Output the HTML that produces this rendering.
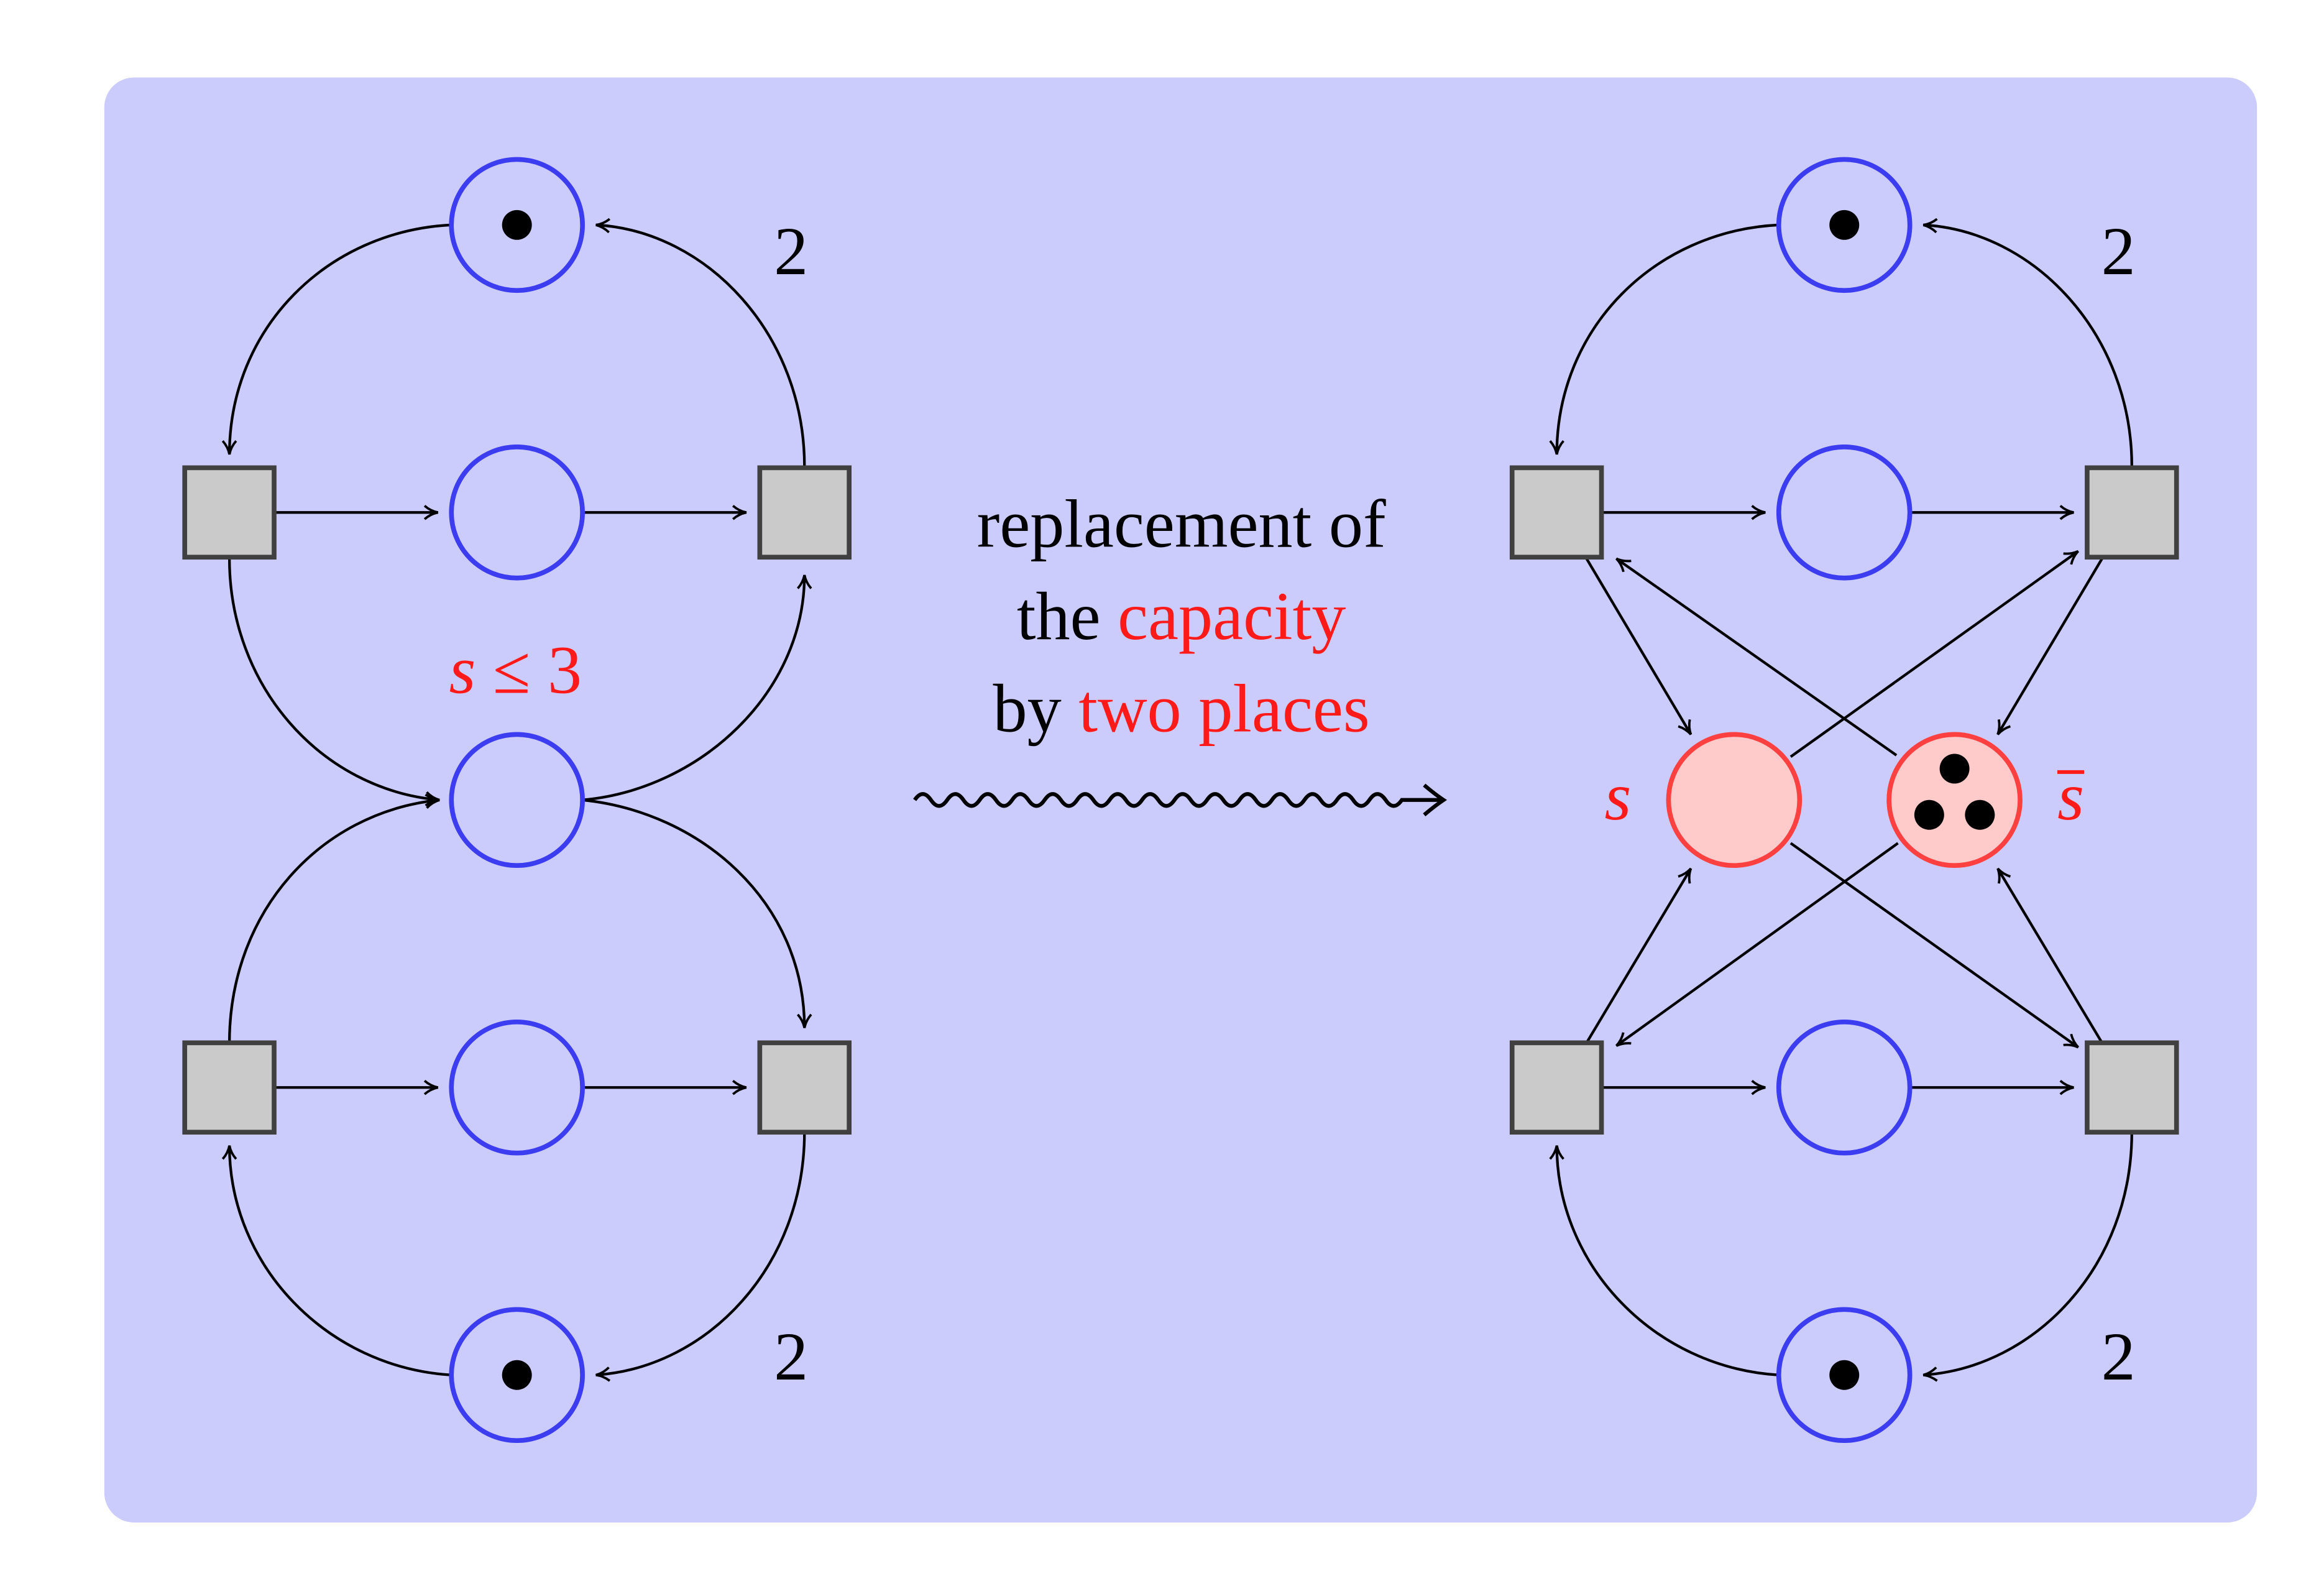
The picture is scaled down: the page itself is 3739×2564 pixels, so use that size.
<!DOCTYPE html>
<html><head><meta charset="utf-8"><style>
html,body{margin:0;padding:0;background:#fff;}
svg{display:block;}
text{font-family:"Liberation Serif",serif;}
</style></head><body>
<svg width="3739" height="2564" viewBox="0 0 1560 1070" preserveAspectRatio="none" xmlns="http://www.w3.org/2000/svg">
<defs>
<marker id="a" viewBox="0 0 12 12" refX="10" refY="6" markerWidth="12" markerHeight="12" markerUnits="userSpaceOnUse" orient="auto">
<path d="M1,1.5 Q5,5 10,6 Q5,7 1,10.5" fill="none" stroke="#000" stroke-width="1.6"/>
</marker>
</defs>
<rect x="70" y="52" width="1445" height="970" rx="20" fill="#ccccfc"/>
<g fill="none" stroke="#000" stroke-width="1.8">
<!-- left net -->
<path d="M303,151 C220,155 154,220 154,305" marker-end="url(#a)"/>
<path d="M540,313 C540,225 475,155 400,151" marker-end="url(#a)"/>
<path d="M154,375 C154,460 215,530 295,537" marker-end="url(#a)"/>
<path d="M391,537 C470,530 540,465 540,386" marker-end="url(#a)"/>
<path d="M154,700 C154,612 215,545 295,537" marker-end="url(#a)"/>
<path d="M391,537 C470,545 540,605 540,690" marker-end="url(#a)"/>
<path d="M303,923 C220,918 154,850 154,769" marker-end="url(#a)"/>
<path d="M540,760 C540,850 475,918 400,923" marker-end="url(#a)"/>
<path d="M184,344 H294" marker-end="url(#a)"/>
<path d="M391,344 H501" marker-end="url(#a)"/>
<path d="M184,730 H294" marker-end="url(#a)"/>
<path d="M391,730 H501" marker-end="url(#a)"/>
<!-- right net -->
<path d="M1194,151 C1111,155 1045,220 1045,305" marker-end="url(#a)"/>
<path d="M1431,313 C1431,225 1366,155 1291,151" marker-end="url(#a)"/>
<path d="M1194,923 C1111,918 1045,850 1045,769" marker-end="url(#a)"/>
<path d="M1431,760 C1431,850 1366,918 1291,923" marker-end="url(#a)"/>
<path d="M1075,344 H1185" marker-end="url(#a)"/>
<path d="M1282,344 H1392" marker-end="url(#a)"/>
<path d="M1075,730 H1185" marker-end="url(#a)"/>
<path d="M1282,730 H1392" marker-end="url(#a)"/>
<path d="M1065,375 L1135,493" marker-end="url(#a)"/>
<path d="M1273,507 L1085,375" marker-end="url(#a)"/>
<path d="M1202,508 L1395,370" marker-end="url(#a)"/>
<path d="M1411,375 L1341,493" marker-end="url(#a)"/>
<path d="M1065,700 L1135,583" marker-end="url(#a)"/>
<path d="M1274,566 L1085,702" marker-end="url(#a)"/>
<path d="M1202,566 L1395,703" marker-end="url(#a)"/>
<path d="M1411,700 L1341,583" marker-end="url(#a)"/>
<!-- wavy -->
<path stroke-width="2.6" d="M614,537 q5.4,-8 10.9,0 q5.4,8 10.9,0 q5.4,-8 10.9,0 q5.4,8 10.9,0 q5.4,-8 10.9,0 q5.4,8 10.9,0 q5.4,-8 10.9,0 q5.4,8 10.9,0 q5.4,-8 10.9,0 q5.4,8 10.9,0 q5.4,-8 10.9,0 q5.4,8 10.9,0 q5.4,-8 10.9,0 q5.4,8 10.9,0 q5.4,-8 10.9,0 q5.4,8 10.9,0 q5.4,-8 10.9,0 q5.4,8 10.9,0 q5.4,-8 10.9,0 q5.4,8 10.9,0 q5.4,-8 10.9,0 q5.4,8 10.9,0 q5.4,-8 10.9,0 q5.4,8 10.9,0 q5.4,-8 10.9,0 q5.4,8 10.9,0 q5.4,-8 10.9,0 q5.4,8 10.9,0 q5.4,-8 10.9,0 q5.4,8 10.9,0 L968,537"/>
<path stroke-width="2.6" d="M956,527 Q963,533 969,537 Q963,541 956,547"/>
</g>
<!-- places -->
<g fill="none" stroke="#3c3cf0" stroke-width="3.2">
<circle cx="347" cy="151" r="44"/><circle cx="347" cy="344" r="44"/><circle cx="347" cy="537" r="44"/>
<circle cx="347" cy="730" r="44"/><circle cx="347" cy="923" r="44"/>
<circle cx="1238" cy="151" r="44"/><circle cx="1238" cy="344" r="44"/>
<circle cx="1238" cy="730" r="44"/><circle cx="1238" cy="923" r="44"/>
</g>
<g fill="#ffcaca" stroke="#ff4040" stroke-width="3.2">
<circle cx="1164" cy="537" r="44"/><circle cx="1312" cy="537" r="44"/>
</g>
<g fill="#000">
<circle cx="347" cy="151" r="10"/><circle cx="347" cy="923" r="10"/>
<circle cx="1238" cy="151" r="10"/><circle cx="1238" cy="923" r="10"/>
<circle cx="1312" cy="516" r="10"/><circle cx="1295" cy="547" r="10"/><circle cx="1329" cy="547" r="10"/>
</g>
<!-- transitions -->
<g fill="#cacaca" stroke="#404040" stroke-width="3.2">
<rect x="124" y="314" width="60" height="60"/><rect x="510" y="314" width="60" height="60"/>
<rect x="124" y="700" width="60" height="60"/><rect x="510" y="700" width="60" height="60"/>
<rect x="1015" y="314" width="60" height="60"/><rect x="1401" y="314" width="60" height="60"/>
<rect x="1015" y="700" width="60" height="60"/><rect x="1401" y="700" width="60" height="60"/>
</g>
<!-- labels -->
<g font-size="46" text-anchor="middle">
<text x="531" y="184">2</text><text x="531" y="926">2</text>
<text x="1422" y="184">2</text><text x="1422" y="926">2</text>
<text x="346" y="465" fill="#ff1a1a"><tspan font-style="italic">s</tspan> ≤ 3</text>
<text x="793" y="367">replacement of</text>
<text x="793" y="429">the <tspan fill="#ff1a1a">capacity</tspan></text>
<text x="793" y="491">by <tspan fill="#ff1a1a">two places</tspan></text>
<text x="1086" y="550" fill="#ff1a1a" font-style="italic">s</text>
<text x="1390" y="550" fill="#ff1a1a" font-style="italic">s</text>
</g>
<rect x="1381" y="517" width="18" height="2.5" fill="#ff1a1a"/>
</svg>
</body></html>
